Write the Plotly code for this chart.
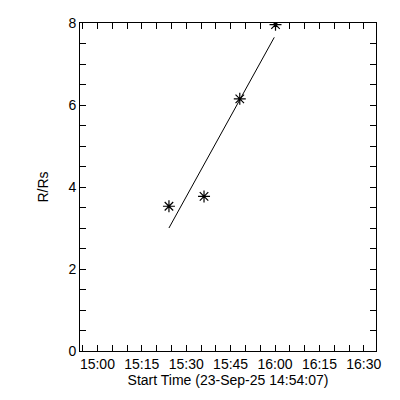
import plotly.graph_objects as go

# Measured points (time, R/Rs)
point_times = ["2025-09-23 15:24:10", "2025-09-23 15:36:01", "2025-09-23 15:48:06", "2025-09-23 16:00:10"]
point_r = [3.53, 3.77, 6.15, 7.96]

# Fit line
fit_times = ["2025-09-23 15:24:10", "2025-09-23 15:59:45"]
fit_r = [3.0, 7.65]

x_range = ["2025-09-23 14:54:07", "2025-09-23 16:34:07"]
y_range = [0, 8]
x_title = "Start Time (23-Sep-25 14:54:07)"
y_title = "R/Rs"

font = dict(family="Liberation Sans, Arial, sans-serif", size=14, color="black")

fig = go.Figure()
fig.add_trace(go.Scatter(x=fit_times, y=fit_r, mode="lines",
                         line=dict(color="black", width=1), showlegend=False))
fig.add_trace(go.Scatter(x=point_times, y=point_r, mode="markers",
                         marker=dict(symbol="asterisk-open", size=10, color="black",
                                     line=dict(color="black", width=1.2)),
                         showlegend=False))

fig.update_layout(
    width=392, height=392,
    margin=dict(l=72, r=24, t=15, b=49, autoexpand=False),
    paper_bgcolor="white", plot_bgcolor="white",
    font=font,
    showlegend=False,
)
fig.update_xaxes(
    type="date", range=x_range, tickformat="%H:%M",
    tick0="2025-09-23 15:00:00", dtick=900000,
    ticks="inside", ticklen=6, tickcolor="black", tickwidth=1,
    minor=dict(ticks="inside", ticklen=6, dtick=300000, tick0="2025-09-23 15:00:00", tickcolor="black"),
    showline=True, linecolor="black", linewidth=1, mirror="allticks",
    showgrid=False, zeroline=False,
    title=dict(text=x_title, standoff=2, font=font),
    tickfont=font, automargin=False,
)
fig.update_yaxes(
    range=y_range, dtick=2, tick0=0,
    ticks="inside", ticklen=6, tickcolor="black", tickwidth=1,
    minor=dict(ticks="inside", ticklen=6, dtick=0.5, tickcolor="black"),
    showline=True, linecolor="black", linewidth=1, mirror="allticks",
    showgrid=False, zeroline=False,
    title=dict(text=y_title, standoff=16, font=font),
    tickfont=font, automargin=False,
)

fig.write_html("out.html")
